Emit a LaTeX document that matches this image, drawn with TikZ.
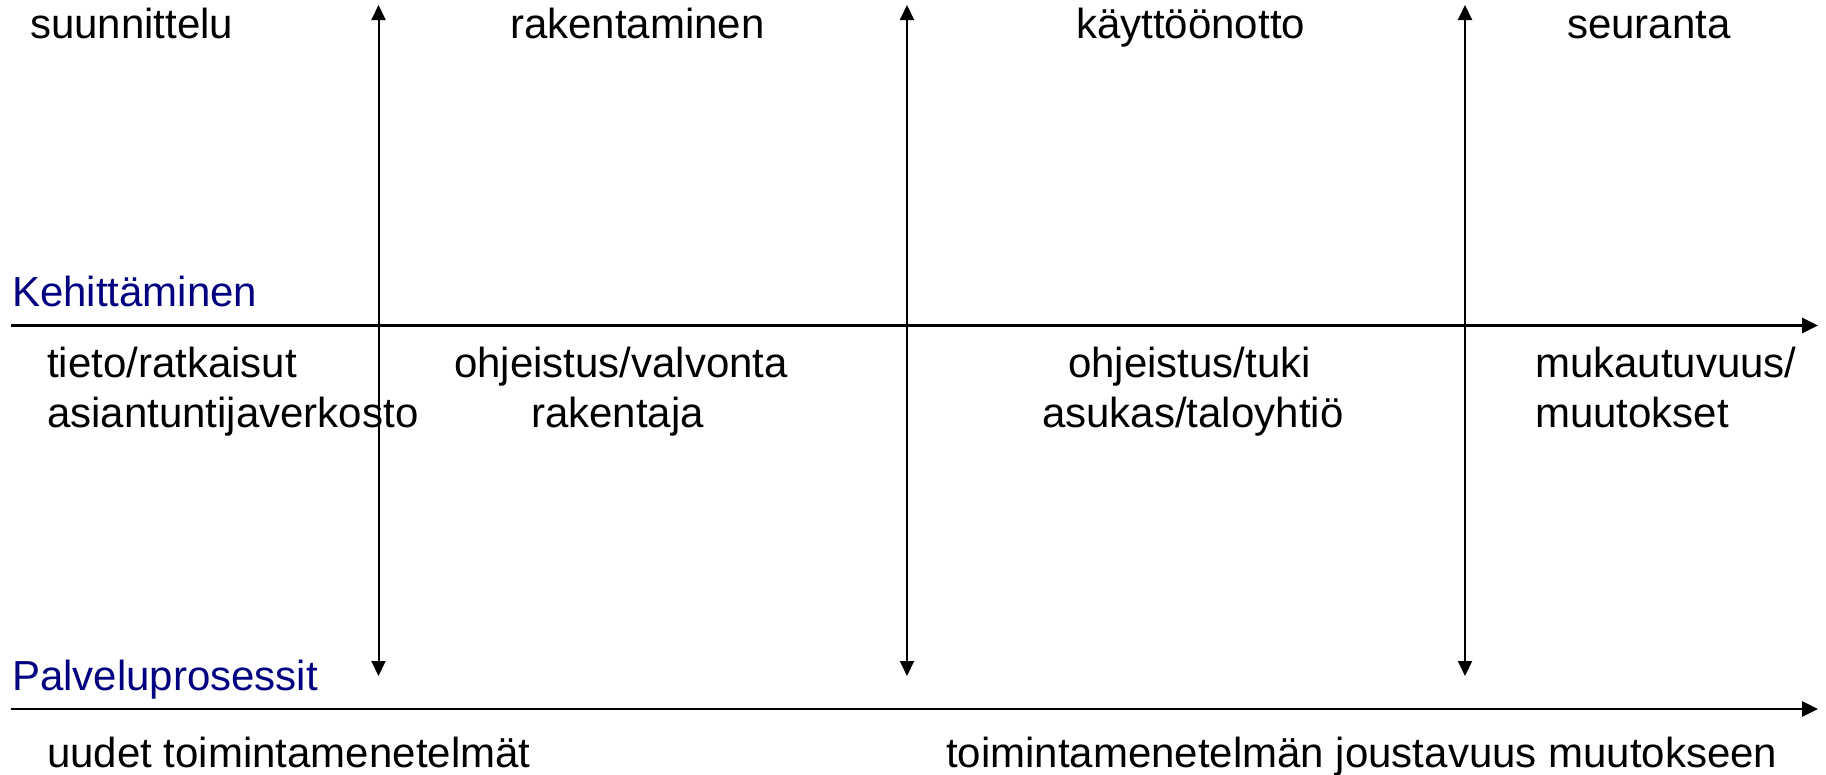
\documentclass[tikz,border=0pt]{standalone}
\usepackage{fontspec}
\setmainfont{Liberation Sans}
\usetikzlibrary{arrows.meta}
\definecolor{navyblue}{RGB}{0,0,128}
\begin{document}
\begin{tikzpicture}[x=1pt,y=-1pt,
  lbl/.style={anchor=base west,inner sep=0pt,font=\fontsize{42}{50}\selectfont},
  headlbl/.style={lbl,text=navyblue},
  axisarrow/.style={line width=2.6pt,-{Triangle[length=16pt,width=15pt]}},
  phasearrow/.style={line width=2pt,{Triangle[length=15pt,width=14pt]}-{Triangle[length=15pt,width=14pt]}}]
\useasboundingbox (0,0) rectangle (1826,774);
% coordinates
\coordinate (h1s) at (11,325.5);
\coordinate (h1e) at (1818,325.5);
\coordinate (h2s) at (11,709);
\coordinate (h2e) at (1818,709);
\coordinate (v1t) at (378.5,5);
\coordinate (v1b) at (378.5,676);
\coordinate (v2t) at (907,5);
\coordinate (v2b) at (907,676);
\coordinate (v3t) at (1465,5);
\coordinate (v3b) at (1465,676);
% arrows
\draw[axisarrow] (h1s) -- (h1e);
\draw[axisarrow] (h2s) -- (h2e);
\draw[phasearrow] (v1t) -- (v1b);
\draw[phasearrow] (v2t) -- (v2b);
\draw[phasearrow] (v3t) -- (v3b);
% top row
\node[lbl] (p1) at (30,38) {suunnittelu};
\node[lbl] (p2) at (510,38) {rakentaminen};
\node[lbl] (p3) at (1076,38) {käyttöönotto};
\node[lbl] (p4) at (1567,38) {seuranta};
% headings
\node[headlbl] (kh) at (12,306) {Kehittäminen};
\node[headlbl] (pp) at (12,690) {Palveluprosessit};
% middle row
\node[lbl] (a1) at (47,377) {tieto/ratkaisut};
\node[lbl] (a2) at (47,427) {asiantuntijaverkosto};
\node[lbl] (b1) at (454,377) {ohjeistus/valvonta};
\node[lbl] (b2) at (531,427) {rakentaja};
\node[lbl] (c1) at (1068,377) {ohjeistus/tuki};
\node[lbl] (c2) at (1042,427) {asukas/taloyhtiö};
\node[lbl] (d1) at (1535,377) {mukautuvuus/};
\node[lbl] (d2) at (1535,427) {muutokset};
% bottom row
\node[lbl] (e1) at (47,767) {uudet toimintamenetelmät};
\node[lbl] (e2) at (946,767) {toimintamenetelmän joustavuus muutokseen};
\end{tikzpicture}
\end{document}
